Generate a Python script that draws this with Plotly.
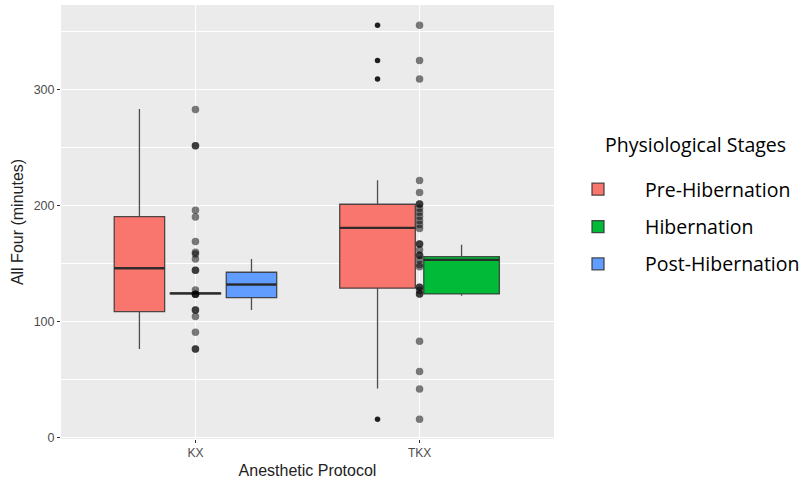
import plotly.graph_objects as go

# ---------------- data ----------------
protocols = ["KX", "TKX"]
stages = ["Pre-Hibernation", "Hibernation", "Post-Hibernation"]
stage_colors = ["#F8766D", "#00BA38", "#619CFF"]
legend_title = "Physiological Stages"

# box statistics per stage, one value per protocol (None = stage absent)
pre_lower = [76.1, 42.0]
pre_q1 = [108.3, 128.5]
pre_median = [145.7, 180.4]
pre_q3 = [190.2, 200.8]
pre_upper = [282.8, 221.4]

hib_lower = [123.6, 122.0]
hib_q1 = [123.6, 123.5]
hib_median = [124.0, 152.9]
hib_q3 = [124.3, 155.6]
hib_upper = [124.3, 165.9]

post_lower = [109.7, None]
post_q1 = [120.3, None]
post_median = [131.6, None]
post_q3 = [142.2, None]
post_upper = [153.7, None]

# outliers of the TKX Pre-Hibernation box
tkx_pre_outliers = [355.0, 324.7, 308.7, 15.5]

# individual observations drawn at the protocol centre
kx_points = [282.5, 251.2, 251.2, 195.7, 189.9, 168.6, 159.5, 158.0, 153.7,
             144.0, 144.0, 127.0, 123.2, 123.2, 123.2, 109.7, 109.7, 104.0,
             90.5, 76.1, 76.1]
tkx_points = [355.0, 324.7, 308.7, 221.2, 210.9, 201.1, 201.1, 197.4, 194.0,
              190.5, 186.7, 183.3, 179.8, 166.6, 166.6, 161.5, 156.9, 156.9,
              152.8, 148.8, 147.0, 129.3, 129.3, 126.4, 123.5, 123.5, 82.8,
              56.6, 41.6, 15.5]

y_ticks = [0, 100, 200, 300]
y_minor = [50, 150, 250, 350]

stats = [
    (pre_lower, pre_q1, pre_median, pre_q3, pre_upper),
    (hib_lower, hib_q1, hib_median, hib_q3, hib_upper),
    (post_lower, post_q1, post_median, post_q3, post_upper),
]

# ---------------- figure ----------------
fig = go.Figure()
line_col = "rgba(51,51,51,0.85)"

med_x, med_y = [], []
box_pos = {}
for pi, prot in enumerate(protocols):
    center = pi + 1
    present = [si for si in range(len(stages)) if stats[si][2][pi] is not None]
    n = len(present)
    slot = 0.75 / n
    for k, si in enumerate(present):
        pos = center + (k - (n - 1) / 2) * slot
        w = slot * 0.9
        box_pos[(pi, si)] = pos
        lo, q1, md, q3, hi = (s[pi] for s in stats[si])
        fig.add_trace(go.Box(
            x=[pos], q1=[q1], median=[md], q3=[q3],
            lowerfence=[lo], upperfence=[hi],
            width=w, name=stages[si], legendgroup=stages[si],
            showlegend=(pi == 0),
            fillcolor=stage_colors[si],
            line=dict(color=line_col, width=1.3),
            boxpoints=False, whiskerwidth=0, hoverinfo="skip",
        ))
        med_x += [pos - w / 2, pos + w / 2, None]
        med_y += [md, md, None]

# thicker median lines (ggplot style)
fig.add_trace(go.Scatter(x=med_x, y=med_y, mode="lines",
                         line=dict(color="rgba(40,40,40,0.9)", width=2.4),
                         showlegend=False, hoverinfo="skip"))

# outliers of TKX pre-hibernation box
fig.add_trace(go.Scatter(
    x=[box_pos[(1, 0)]] * len(tkx_pre_outliers), y=tkx_pre_outliers,
    mode="markers", marker=dict(color="rgba(20,20,20,0.95)", size=5.5),
    showlegend=False, hoverinfo="skip"))

# individual points
for pi, pts in enumerate([kx_points, tkx_points]):
    fig.add_trace(go.Scatter(
        x=[pi + 1] * len(pts), y=pts, mode="markers",
        marker=dict(color="rgba(0,0,0,0.5)", size=7.5, line=dict(width=0)),
        showlegend=False, hoverinfo="skip"))

fig.add_annotation(
    text=legend_title, xref="paper", yref="paper",
    x=(603 - 61) / 493, y=1 - (145 - 5) / 434, xanchor="left", yanchor="middle",
    showarrow=False, font=dict(family="Open Sans", size=19.5, color="black"))

fig.update_layout(
    width=804, height=479,
    margin=dict(l=61, r=250, t=5, b=40, autoexpand=False),
    paper_bgcolor="white",
    plot_bgcolor="#EBEBEB",
    font=dict(family="Liberation Sans, Arial, sans-serif", color="#222222"),
    legend=dict(
        font=dict(family="Open Sans", size=19.5, color="black"),
        xref="container", yref="container",
        x=551 / 804, y=1 - 170 / 479, xanchor="left", yanchor="top",
        itemwidth=84, traceorder="grouped", tracegroupgap=9,
        bgcolor="rgba(0,0,0,0)",
    ),
    xaxis=dict(
        range=[0.4, 2.6], tickvals=[1, 2], ticktext=protocols,
        showgrid=True, gridcolor="white", gridwidth=1.1,
        zeroline=False, ticks="outside", ticklen=3, tickcolor="#333333",
        tickfont=dict(size=12, color="#4D4D4D"), automargin=False,
        title=dict(text="Anesthetic Protocol", font=dict(size=16, color="#222222"),
                   standoff=6),
    ),
    yaxis=dict(
        range=[-1.5, 372.5], tickvals=y_ticks,
        showgrid=True, gridcolor="white", gridwidth=1.1,
        minor=dict(tickvals=y_minor, showgrid=True,
                   gridcolor="white", gridwidth=0.5),
        zeroline=False, ticks="outside", ticklen=3, tickcolor="#333333",
        tickfont=dict(size=12.5, color="#4D4D4D"), automargin=False,
        title=dict(text="All Four (minutes)", font=dict(size=16, color="#222222"),
                   standoff=6),
    ),
)

fig.write_html("out.html",
               config={"displayModeBar": False},
               post_script="document.body.style.margin='0';")
